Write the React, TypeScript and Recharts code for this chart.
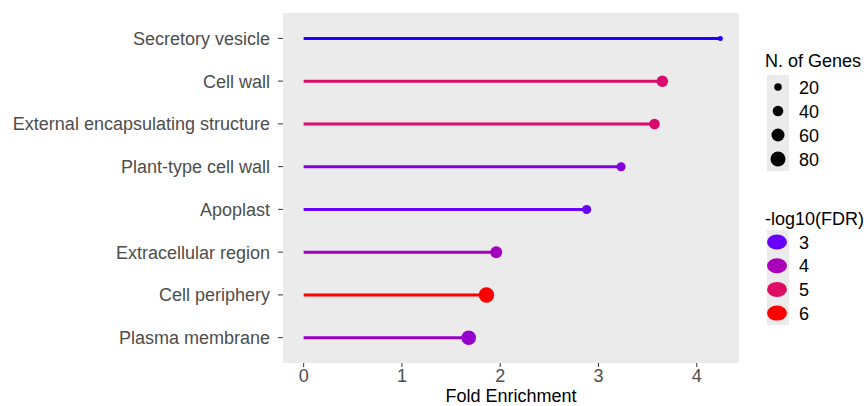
import React from 'react';
import { ComposedChart, Bar, XAxis, YAxis, CartesianGrid } from 'recharts';

const terms = [
  'Secretory vesicle',
  'Cell wall',
  'External encapsulating structure',
  'Plant-type cell wall',
  'Apoplast',
  'Extracellular region',
  'Cell periphery',
  'Plasma membrane',
];
const foldEnrichment = [4.24, 3.65, 3.57, 3.23, 2.88, 1.96, 1.86, 1.68];
const logFdr = [2.3, 4.9, 4.9, 3.4, 3.0, 3.9, 6.1, 3.7];
const geneCounts = [9, 48, 40, 29, 29, 51, 85, 75];
const xTicks = [0, 1, 2, 3, 4];
const sizeBreaks = [20, 40, 60, 80];
const fdrBreaks = [3, 4, 5, 6];

const rows = terms.map((term, i) => ({
  term,
  fe: foldEnrichment[i],
  fdr: logFdr[i],
  genes: geneCounts[i],
}));

// blue -> purple -> red, roughly like ggplot's gradient
const colorStops: [number, number[]][] = [
  [2, [0, 0, 255]],
  [3, [104, 0, 250]],
  [4, [170, 0, 185]],
  [5, [222, 12, 100]],
  [6, [255, 0, 0]],
];

function fdrColor(v: number) {
  if (v <= colorStops[0][0]) return `rgb(${colorStops[0][1].join(',')})`;
  for (let i = 1; i < colorStops.length; i++) {
    const [v1, c1] = colorStops[i];
    const [v0, c0] = colorStops[i - 1];
    if (v <= v1) {
      const t = (v - v0) / (v1 - v0);
      const c = c0.map((a, k) => Math.round(a + (c1[k] - a) * t));
      return `rgb(${c.join(',')})`;
    }
  }
  return 'rgb(255,0,0)';
}

const radius = (n: number) => 0.84 * Math.sqrt(n);

const Lollipop = (props: any) => {
  const { x, y, width, height, payload } = props;
  const cy = y + height / 2;
  const col = fdrColor(payload.fdr);
  return (
    <g>
      <line x1={x} y1={cy} x2={x + width} y2={cy} stroke={col} strokeWidth={3} />
      <circle cx={x + width} cy={cy} r={radius(payload.genes)} fill={col} />
    </g>
  );
};

const font = '"Liberation Sans", Arial, Helvetica, sans-serif';

const Legends = () => (
  <svg
    width={866}
    height={406}
    style={{ position: 'absolute', left: 0, top: 0, pointerEvents: 'none' }}
    fontFamily={font}
  >
    <text x={765} y={66.5} fontSize={18} fill="#000">N. of Genes</text>
    <rect x={767} y={75} width={22} height={96} fill="#ebebeb" />
    {sizeBreaks.map((b, i) => (
      <g key={b}>
        <circle cx={778} cy={87 + i * 24} r={radius(b)} fill="#000" />
        <text x={799} y={93.5 + i * 24} fontSize={18} fill="#000">{b}</text>
      </g>
    ))}
    <text x={765} y={224.5} fontSize={18} fill="#000">-log10(FDR)</text>
    <rect x={767} y={230} width={22} height={95} fill="#ebebeb" />
    {fdrBreaks.map((b, i) => (
      <g key={b}>
        <ellipse cx={777} cy={242 + i * 23.7} rx={10} ry={7.5} fill={fdrColor(b)} />
        <text x={799} y={248.5 + i * 23.7} fontSize={18} fill="#000">{b}</text>
      </g>
    ))}
  </svg>
);

export default function App() {
  return (
    <div style={{ position: 'absolute', left: 0, top: 0, width: 866, height: 406, background: '#fff', fontFamily: font }}>
      <ComposedChart
        width={866}
        height={406}
        data={rows}
        layout="vertical"
        margin={{ top: 13, right: 127, left: 0, bottom: 0 }}
        barCategoryGap={0}
      >
        <CartesianGrid fill="#ebebeb" stroke="none" horizontal={false} vertical={false} />
        <XAxis
          type="number"
          dataKey="fe"
          domain={[-0.21, 4.43]}
          ticks={xTicks}
          allowDataOverflow
          height={43}
          axisLine={false}
          tickLine={{ stroke: '#333' }}
          tickSize={4}
          tickMargin={2}
          tick={{ fill: '#4d4d4d', fontSize: 18 }}
          label={{ value: 'Fold Enrichment', position: 'insideBottom', offset: 4, fill: '#000', fontSize: 18 }}
        />
        <YAxis
          type="category"
          dataKey="term"
          width={283}
          axisLine={false}
          tickLine={{ stroke: '#333' }}
          tickSize={5}
          tickMargin={8}
          padding={{ top: 4, bottom: 4 }}
          tick={{ fill: '#4d4d4d', fontSize: 18 }}
          interval={0}
        />
        <Bar dataKey="fe" shape={Lollipop} isAnimationActive={false} />
      </ComposedChart>
      <Legends />
    </div>
  );
}
